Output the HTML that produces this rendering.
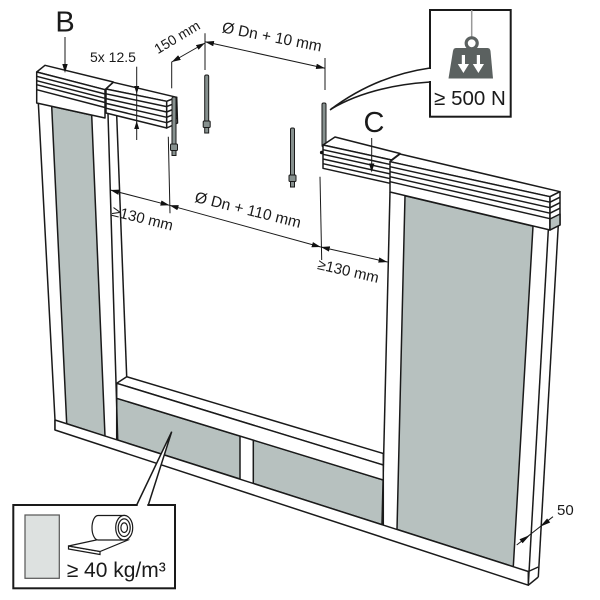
<!DOCTYPE html>
<html><head><meta charset="utf-8"><style>
html,body{margin:0;padding:0;background:#fff;}
svg{display:block;}
text{font-family:"Liberation Sans",Arial,sans-serif;fill:#1a1a1a;}
</style></head><body>
<svg width="600" height="600" viewBox="0 0 600 600" xmlns="http://www.w3.org/2000/svg">
<defs>
<marker id="a" viewBox="0 0 10 6" refX="10" refY="3" markerWidth="9" markerHeight="5.4" markerUnits="userSpaceOnUse" orient="auto-start-reverse"><path d="M0,0 L10,3 L0,6 z" fill="#111"/></marker>
</defs>
<rect width="600" height="600" fill="#fff"/>

<g stroke="#1a1a1a" stroke-width="1.5" stroke-linejoin="round" fill="none">
<!-- gray panels -->
<polygon points="51.7,106.3 91.7,115.1 105,436.2 66.7,423.7" fill="#b7c1bf"/>
<polygon points="116.7,398.3 240,436 240,479 116.7,439.7" fill="#b7c1bf"/>
<polygon points="253.3,440 383.3,480 383.3,525.1 253.3,483.5" fill="#b7c1bf"/>
<polygon points="405,195.8 533,226.2 513.3,566.7 397,529.4" fill="#b7c1bf"/>

<!-- stud lines -->
<polyline points="36.7,72 55,420 55,430"/>
<line x1="108" y1="113.7" x2="117.7" y2="439.7"/>
<line x1="116.7" y1="115.5" x2="126.7" y2="376.7"/>
<line x1="390" y1="192" x2="382" y2="524.5"/>
<line x1="548.3" y1="230" x2="528.3" y2="585"/>
<line x1="558.3" y1="225" x2="538.3" y2="577"/>

<!-- bottom plate -->
<polygon points="55,420 528.3,571.5 528.3,585.2 55,430" fill="#fff"/>
<line x1="528.3" y1="585.2" x2="538.3" y2="577"/>
<line x1="528.3" y1="571.5" x2="538.3" y2="567"/>

<!-- sill -->
<polygon points="116.7,383.3 126.7,376.7 383.3,453.5 383.3,465" fill="#fff"/>
<polygon points="116.7,383.3 383.3,465 383.3,480 116.7,398.3" fill="#fff"/>

<!-- pin 4 (behind C) -->
<rect x="322" y="103" width="4" height="44" rx="1.5" fill="#86908e" stroke-width="1"/>

<!-- B header first piece -->
<polygon points="36.7,72 45,65.3 113.3,82 105,89.7" fill="#fff"/>
<polygon points="36.7,72 105,89.7 105,118 36.7,103" fill="#fff"/>
<line x1="36.7" y1="76.3" x2="105" y2="94"/>
<line x1="36.7" y1="80.7" x2="105" y2="98.3"/>
<line x1="36.7" y1="84.7" x2="105" y2="102.5"/>
<line x1="36.7" y1="89.7" x2="105" y2="107.5"/>

<!-- B second piece (5x12.5) -->
<polygon points="106,89 113.3,82.3 176.7,97.3 166.7,101.3" fill="#fff"/>
<polygon points="106,89 166.7,101.3 166.7,128 106,113" fill="#fff"/>
<line x1="106" y1="93.8" x2="166.7" y2="106.6"/>
<line x1="106" y1="98.6" x2="166.7" y2="112"/>
<line x1="106" y1="103.4" x2="166.7" y2="117.3"/>
<line x1="106" y1="108.2" x2="166.7" y2="122.7"/>
<polygon points="166.7,101.3 176.7,97.3 177.5,123 166.7,128" fill="#fff"/>
<line x1="166.7" y1="106.6" x2="177" y2="102.4"/>
<line x1="166.7" y1="112" x2="177.2" y2="107.6"/>
<line x1="166.7" y1="117.3" x2="177.3" y2="112.8"/>
<line x1="166.7" y1="122.7" x2="177.4" y2="118"/>

<!-- C left piece -->
<polygon points="323,145 335,137 400,153.5 391.5,160" fill="#fff"/>
<polygon points="323,145 391.5,160 390,183.3 323,168.3" fill="#fff"/>
<line x1="323" y1="149.7" x2="391.2" y2="164.7"/>
<line x1="323" y1="154.3" x2="390.9" y2="169.3"/>
<line x1="323" y1="159" x2="390.6" y2="174"/>
<line x1="323" y1="163.7" x2="390.3" y2="178.7"/>

<!-- C right piece -->
<polygon points="390,161.7 400,154 560,191.7 550,196.7" fill="#fff"/>
<polygon points="390,161.7 550,196.7 550,230 390,192" fill="#fff"/>
<line x1="390" y1="166.7" x2="550" y2="202.2"/>
<line x1="390" y1="171.7" x2="550" y2="207.7"/>
<line x1="390" y1="176.7" x2="550" y2="213.2"/>
<line x1="390" y1="181.7" x2="550" y2="218.7"/>
<polygon points="550,196.7 560,191.7 560,225 550,230" fill="#fff"/>
<polygon points="550,219 560,214 560,225 550,230" fill="#b7c1bf"/>
<line x1="550" y1="202.2" x2="560" y2="197.2"/>
<line x1="550" y1="207.7" x2="560" y2="202.7"/>
<line x1="550" y1="213.2" x2="560" y2="208.2"/>
</g>
<circle cx="321.7" cy="152.5" r="1.8" fill="#111"/>

<!-- pins -->
<g stroke="#1a1a1a" stroke-width="1" fill="#86908e">
<rect x="172" y="97" width="4" height="48" rx="1.5"/>
<rect x="170.5" y="144" width="7" height="6.5" rx="1"/>
<rect x="172" y="150.5" width="4" height="5"/>
<rect x="204.7" y="75" width="4" height="47" rx="1.5"/>
<rect x="203.2" y="121" width="7" height="6.5" rx="1"/>
<rect x="204.7" y="127.5" width="4" height="5.5"/>
<rect x="290.5" y="128" width="4" height="48" rx="1.5"/>
<rect x="289" y="175" width="7" height="6.5" rx="1"/>
<rect x="290.5" y="181.5" width="4" height="5.5"/>
</g>

<!-- dimension lines -->
<g stroke="#1a1a1a" stroke-width="1" fill="none">
<line x1="171.7" y1="61.7" x2="171.7" y2="88.3"/>
<line x1="205" y1="33.3" x2="205" y2="70"/>
<line x1="325" y1="58" x2="325" y2="90"/>
<line x1="168.3" y1="136.7" x2="170" y2="213.3"/>
<line x1="320" y1="176.7" x2="321.7" y2="260"/>
<line x1="171.7" y1="62" x2="205" y2="43" marker-start="url(#a)" marker-end="url(#a)"/>
<line x1="205" y1="41.7" x2="325" y2="68.3" marker-start="url(#a)" marker-end="url(#a)"/>
<line x1="110.3" y1="190" x2="169.5" y2="205.3" marker-start="url(#a)" marker-end="url(#a)"/>
<line x1="169.5" y1="205.3" x2="320.8" y2="247" marker-start="url(#a)" marker-end="url(#a)"/>
<line x1="320.8" y1="247" x2="387.5" y2="262" marker-start="url(#a)" marker-end="url(#a)"/>
<line x1="136.7" y1="66.7" x2="136.7" y2="140"/>
<line x1="65" y1="37" x2="65" y2="66"/>
<line x1="371.7" y1="138" x2="371.7" y2="165"/>
<line x1="516.7" y1="545" x2="553" y2="516.7"/>
</g>
<g fill="#111">
<polygon points="136.7,94 134.2,86 139.2,86"/>
<polygon points="136.7,121 134.2,129 139.2,129"/>
<polygon points="65,73 62.3,64 67.7,64"/>
<polygon points="371.7,172.5 369,163.5 374.4,163.5"/>
<polygon points="530,535 519.5,539.2 522.6,543.2"/>
<polygon points="540,526.7 547.1,518.5 550.2,522.5"/>
</g>

<!-- labels -->
<text x="65" y="31.7" font-size="29" text-anchor="middle">B</text>
<text x="374" y="132" font-size="29" text-anchor="middle">C</text>
<text x="90" y="62" font-size="14">5x 12.5</text>
<text transform="translate(177,37) rotate(-31)" x="0" y="5" font-size="14" text-anchor="middle">150 mm</text>
<text transform="translate(272,37) rotate(11)" x="0" y="5" font-size="15.5" text-anchor="middle">Ø Dn + 10 mm</text>
<text transform="translate(248,210) rotate(14)" x="0" y="5" font-size="15.5" text-anchor="middle">Ø Dn + 110 mm</text>
<text transform="translate(142.5,218.3) rotate(14)" x="0" y="5" font-size="15" text-anchor="middle">≥130 mm</text>
<text transform="translate(348.3,271) rotate(13)" x="0" y="5" font-size="15" text-anchor="middle">≥130 mm</text>
<text x="557" y="515" font-size="15">50</text>

<!-- weight callout -->
<path d="M430,68 Q375,76 330,110 Q370,86 430,82 Z" fill="#fff" stroke="none"/>
<rect x="430" y="10" width="80.7" height="106.7" fill="#fff" stroke="#1a1a1a" stroke-width="2"/>
<line x1="430" y1="69" x2="430" y2="81" stroke="#fff" stroke-width="3"/>
<path d="M430,68 Q375,76 330,110" fill="none" stroke="#1a1a1a" stroke-width="1.6"/>
<path d="M430,82 Q370,86 331,109" fill="none" stroke="#1a1a1a" stroke-width="1.6"/>
<line x1="471.7" y1="10" x2="471.7" y2="37" stroke="#999" stroke-width="1.5"/>
<circle cx="471.7" cy="43.3" r="5.5" fill="none" stroke="#5b6160" stroke-width="3.2"/>
<path d="M456,48 L487.5,48 Q490,48 490.5,51 L493,78.5 L448.5,78.5 L453,51 Q453.5,48 456,48 Z" fill="#5b6160"/>
<path d="M461.8,55 h3.2 v9 h4 l-5.6,9 l-5.6,-9 h4 z" fill="#fff"/>
<path d="M476.8,55 h3.2 v9 h4 l-5.6,9 l-5.6,-9 h4 z" fill="#fff"/>
<text x="470" y="105" font-size="20.5" text-anchor="middle">≥ 500 N</text>

<!-- insulation callout -->
<polygon points="136.7,505 171.7,431.7 148.3,505" fill="#fff"/>
<rect x="13.3" y="505" width="161.7" height="83.3" fill="#fff" stroke="#1a1a1a" stroke-width="2"/>
<line x1="137.7" y1="505" x2="147.3" y2="505" stroke="#fff" stroke-width="3"/>
<polyline points="136.7,505 171.7,431.7 148.3,505" fill="none" stroke="#1a1a1a" stroke-width="1.5"/>
<rect x="25" y="515" width="34.3" height="63.3" fill="#dde1e0" stroke="#555" stroke-width="1.2"/>
<g stroke="#1a1a1a" stroke-width="1.2" fill="#fff">
<polygon points="68.5,549 100,554.5 100,551.5 68.5,546"/>
<polygon points="68.5,546 110,537 128,540 100,551.5"/>
<path d="M98,515.5 L124.2,515.5 L124.2,540 L98,540 A6,12.25 0 0 1 98,515.5 Z"/>
<ellipse cx="124.2" cy="527.7" rx="8.5" ry="12.3"/>
<ellipse cx="124.2" cy="527.7" rx="6" ry="8.8"/>
<ellipse cx="124.2" cy="527.7" rx="3.3" ry="4.8"/>
</g>
<text x="66.7" y="577" font-size="21">≥ 40 kg/m³</text>
</svg>
</body></html>
